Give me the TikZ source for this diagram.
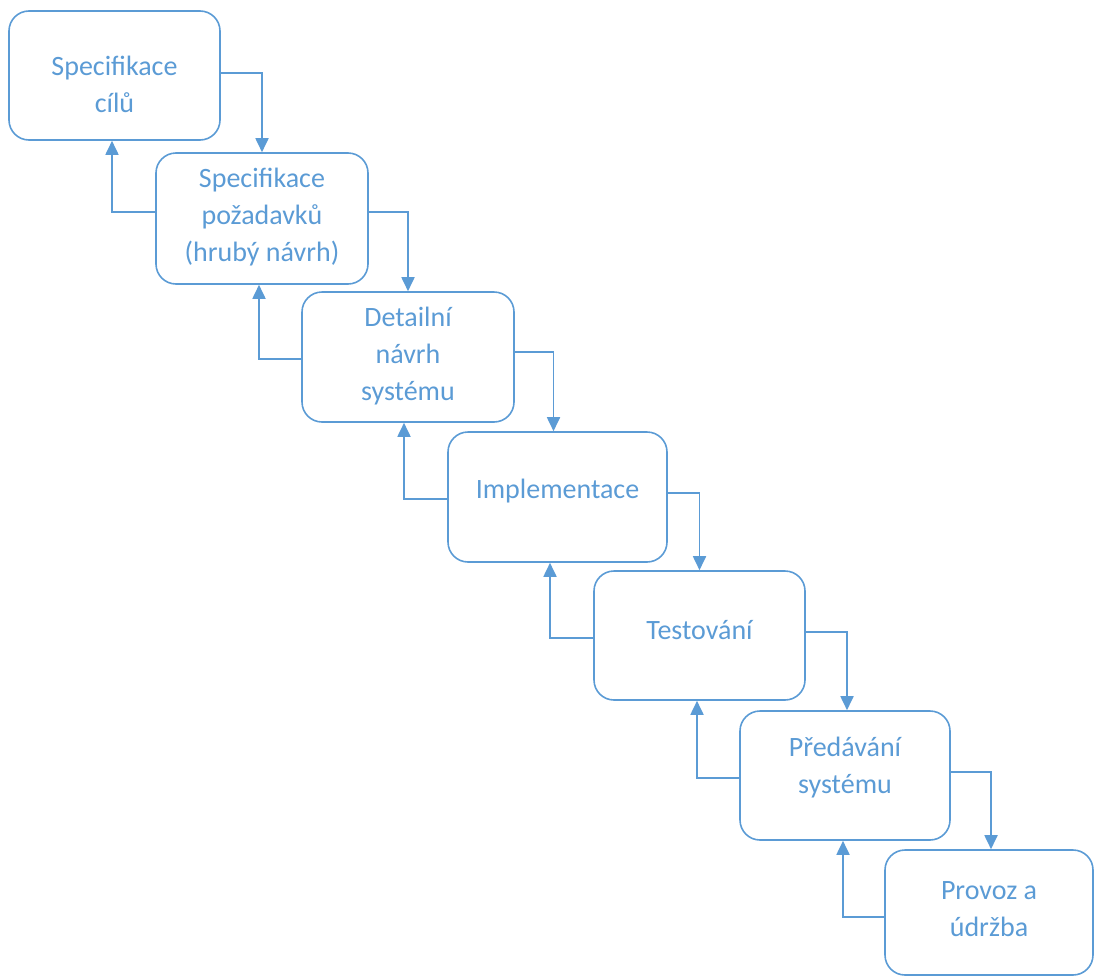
\documentclass[tikz,border=0pt]{standalone}
\usepackage{fontspec}
\setmainfont{Carlito}
\usetikzlibrary{arrows.meta}
\definecolor{phase}{HTML}{5B9BD5}
\begin{document}
\begin{tikzpicture}[x=1pt,y=-1pt,
  stage/.style={draw=phase, line width=1.6pt, rounded corners=20pt, inner sep=0pt},
  caption/.style={text=phase, align=center, inner sep=0pt,
    font=\fontsize{28}{37}\selectfont},
  link/.style={draw=phase, line width=1.8pt, -{Triangle[length=14pt,width=13pt]}}]
\useasboundingbox (0,0) rectangle (1094,977);

% phase boxes
\node[stage, minimum width=211pt, minimum height=129pt] (b1) at (114.5,75.5) {};
\node[stage, minimum width=212pt, minimum height=131pt] (b2) at (262,218.5) {};
\node[stage, minimum width=212pt, minimum height=130pt] (b3) at (408,357) {};
\node[stage, minimum width=219pt, minimum height=130pt] (b4) at (557.5,497) {};
\node[stage, minimum width=211pt, minimum height=129pt] (b5) at (699.5,635.5) {};
\node[stage, minimum width=210pt, minimum height=129pt] (b6) at (845,775.5) {};
\node[stage, minimum width=208pt, minimum height=125pt] (b7) at (989,912.5) {};

% phase names
\node[caption] (t1) at (114.5,84) {Specifikace\\cílů};
\node[caption] (t2) at (262,217) {Specifikace\\požadavků\\(hrubý návrh)};
\node[caption] (t3) at (408,356) {Detailní\\návrh\\systému};
\node[caption] (t4) at (557.5,491) {Implementace};
\node[caption] (t5) at (699.5,630) {Testování};
\node[caption] (t6) at (845,768) {Předávání\\systému};
\node[caption] (t7) at (989,909) {Provoz a\\údržba};

% forward flow
\draw[link] ([yshift=2.5pt]b1.east) -| (b2.north);
\draw[link] ([yshift=6.5pt]b2.east) -| (b3.north);
\draw[link] ([yshift=5pt]b3.east) -| ([xshift=-4pt]b4.north);
\draw[link] ([yshift=4pt]b4.east) -| (b5.north);
\draw[link] ([yshift=3.5pt]b5.east) -| ([xshift=2pt]b6.north);
\draw[link] ([yshift=3.5pt]b6.east) -| ([xshift=2pt]b7.north);

% feedback flow
\draw[link] ([yshift=6.5pt]b2.west) -| ([xshift=-2.5pt]b1.south);
\draw[link] ([yshift=-2pt]b3.west) -| ([xshift=-3pt]b2.south);
\draw[link] ([yshift=-2pt]b4.west) -| ([xshift=-4pt]b3.south);
\draw[link] ([yshift=-2.5pt]b5.west) -| ([xshift=-7.5pt]b4.south);
\draw[link] ([yshift=-2.5pt]b6.west) -| ([xshift=-2.5pt]b5.south);
\draw[link] ([yshift=-4.5pt]b7.west) -| ([xshift=-2pt]b6.south);
\end{tikzpicture}
\end{document}
